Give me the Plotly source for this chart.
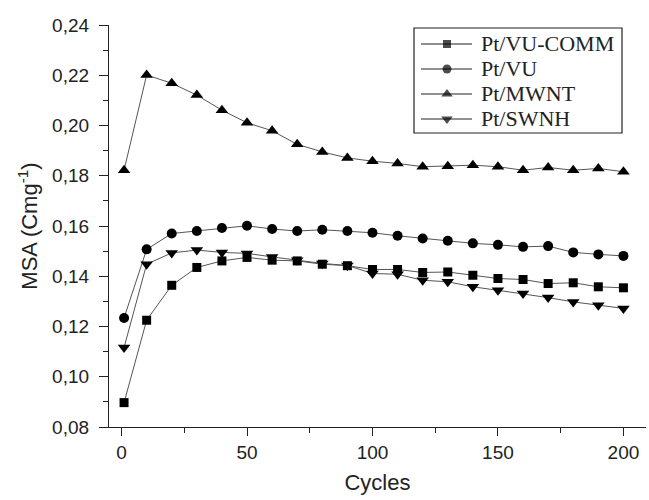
import plotly.graph_objects as go

cycles = [1, 10, 20, 30, 40, 50, 60, 70, 80, 90, 100, 110, 120, 130, 140, 150, 160, 170, 180, 190, 200]

pt_vu_comm = [0.0897, 0.1225, 0.1364, 0.1435, 0.1461, 0.1475, 0.1464, 0.1461, 0.1448, 0.1442, 0.1427,
              0.1427, 0.1415, 0.1417, 0.1404, 0.1391, 0.1387, 0.1371, 0.1374, 0.1358, 0.1354]
pt_vu = [0.1234, 0.1507, 0.1570, 0.1580, 0.1592, 0.1601, 0.1588, 0.1580, 0.1585, 0.1580, 0.1573,
         0.1561, 0.1550, 0.1541, 0.1531, 0.1525, 0.1517, 0.1520, 0.1495, 0.1487, 0.1481]
pt_mwnt = [0.1822, 0.2201, 0.2168, 0.2121, 0.2061, 0.2011, 0.1979, 0.1925, 0.1895, 0.1871, 0.1858,
           0.1849, 0.1836, 0.1838, 0.1842, 0.1836, 0.1822, 0.1833, 0.1822, 0.1829, 0.1816]
pt_swnh = [0.1116, 0.1448, 0.1493, 0.1504, 0.1495, 0.1491, 0.1477, 0.1464, 0.1451, 0.1443, 0.1411,
           0.1408, 0.1384, 0.1378, 0.1358, 0.1344, 0.1331, 0.1315, 0.1298, 0.1285, 0.1272]

series_names = ["Pt/VU-COMM", "Pt/VU", "Pt/MWNT", "Pt/SWNH"]
series_values = [pt_vu_comm, pt_vu, pt_mwnt, pt_swnh]
series_symbols = ["square", "circle", "triangle-up", "triangle-down"]
series_sizes = [9, 10, 11, 11]

W, H = 649, 500
ML, MR, MT, MB = 109, 3, 25, 73
PW, PH = W - ML - MR, H - MT - MB


def fx(px):
    return (px - ML) / PW


def fy(py):
    return 1 - (py - MT) / PH


DARK = "#222222"
LINE = "#555555"

fig = go.Figure()
for name, vals, sym, sz in zip(series_names, series_values, series_symbols, series_sizes):
    fig.add_trace(go.Scatter(
        x=cycles, y=vals, name=name, mode="lines+markers", showlegend=False,
        line=dict(color=LINE, width=1),
        marker=dict(symbol=sym, size=sz, color="black", line=dict(width=0)),
    ))

# legend (drawn in a box with tight rows like the reference)
row_y = [44, 69, 94, 119]
annotations = []
for i, (name, sym, sz) in enumerate(zip(series_names, series_symbols, series_sizes)):
    yy = fy(row_y[i])
    fig.add_trace(go.Scatter(
        x=[fx(421), fx(447), fx(472)], y=[yy, yy, yy], xaxis="x2", yaxis="y2",
        mode="lines+markers", showlegend=False, hoverinfo="skip",
        line=dict(color=DARK, width=1.2),
        marker=dict(symbol=sym, size=[0, sz - 1, 0], color="black", line=dict(width=0)),
    ))
    annotations.append(dict(
        x=fx(479), y=yy, xref="paper", yref="paper", text=name, showarrow=False,
        xanchor="left", yanchor="middle",
        font=dict(family="Liberation Serif, Times New Roman, serif", size=22, color=DARK),
    ))

shapes = [dict(type="rect", xref="paper", yref="paper",
               x0=fx(414), x1=fx(622), y0=fy(28), y1=fy(133),
               line=dict(color=DARK, width=1.2), fillcolor="rgba(0,0,0,0)", layer="above")]

tick_font = dict(family="Liberation Sans, Arial, sans-serif", size=19, color=DARK)
title_font = dict(family="Liberation Sans, Arial, sans-serif", size=22, color=DARK)

fig.update_layout(
    width=W, height=H,
    margin=dict(l=ML, r=MR, t=MT, b=MB),
    paper_bgcolor="white", plot_bgcolor="white",
    separators=",.",
    showlegend=False,
    annotations=annotations,
    shapes=shapes,
    xaxis=dict(
        range=[-5, 209], tickvals=[0, 50, 100, 150, 200],
        showline=True, linecolor=DARK, linewidth=1.2, mirror=False,
        ticks="outside", ticklen=8, tickcolor=DARK, tickwidth=1.2,
        minor=dict(tickvals=[25, 75, 125, 175], ticks="outside", ticklen=5, tickcolor=DARK, tickwidth=1.2),
        showgrid=False, zeroline=False,
        tickfont=tick_font,
        title=dict(text="Cycles", font=title_font, standoff=12),
    ),
    yaxis=dict(
        range=[0.08, 0.24], dtick=0.02, tick0=0.08, tickformat=".2f",
        showline=True, linecolor=DARK, linewidth=1.2, mirror=False,
        ticks="outside", ticklen=9, tickcolor=DARK, tickwidth=1.2,
        ticklabelstandoff=6,
        minor=dict(dtick=0.01, tick0=0.09, ticks="outside", ticklen=5, tickcolor=DARK, tickwidth=1.2),
        showgrid=False, zeroline=False,
        tickfont=tick_font,
        title=dict(text="MSA (Cmg<sup>-1</sup>)", font=title_font, standoff=8),
    ),
    xaxis2=dict(range=[0, 1], overlaying="x", visible=False, fixedrange=True),
    yaxis2=dict(range=[0, 1], overlaying="y", visible=False, fixedrange=True),
)

fig.write_html("out.html")
